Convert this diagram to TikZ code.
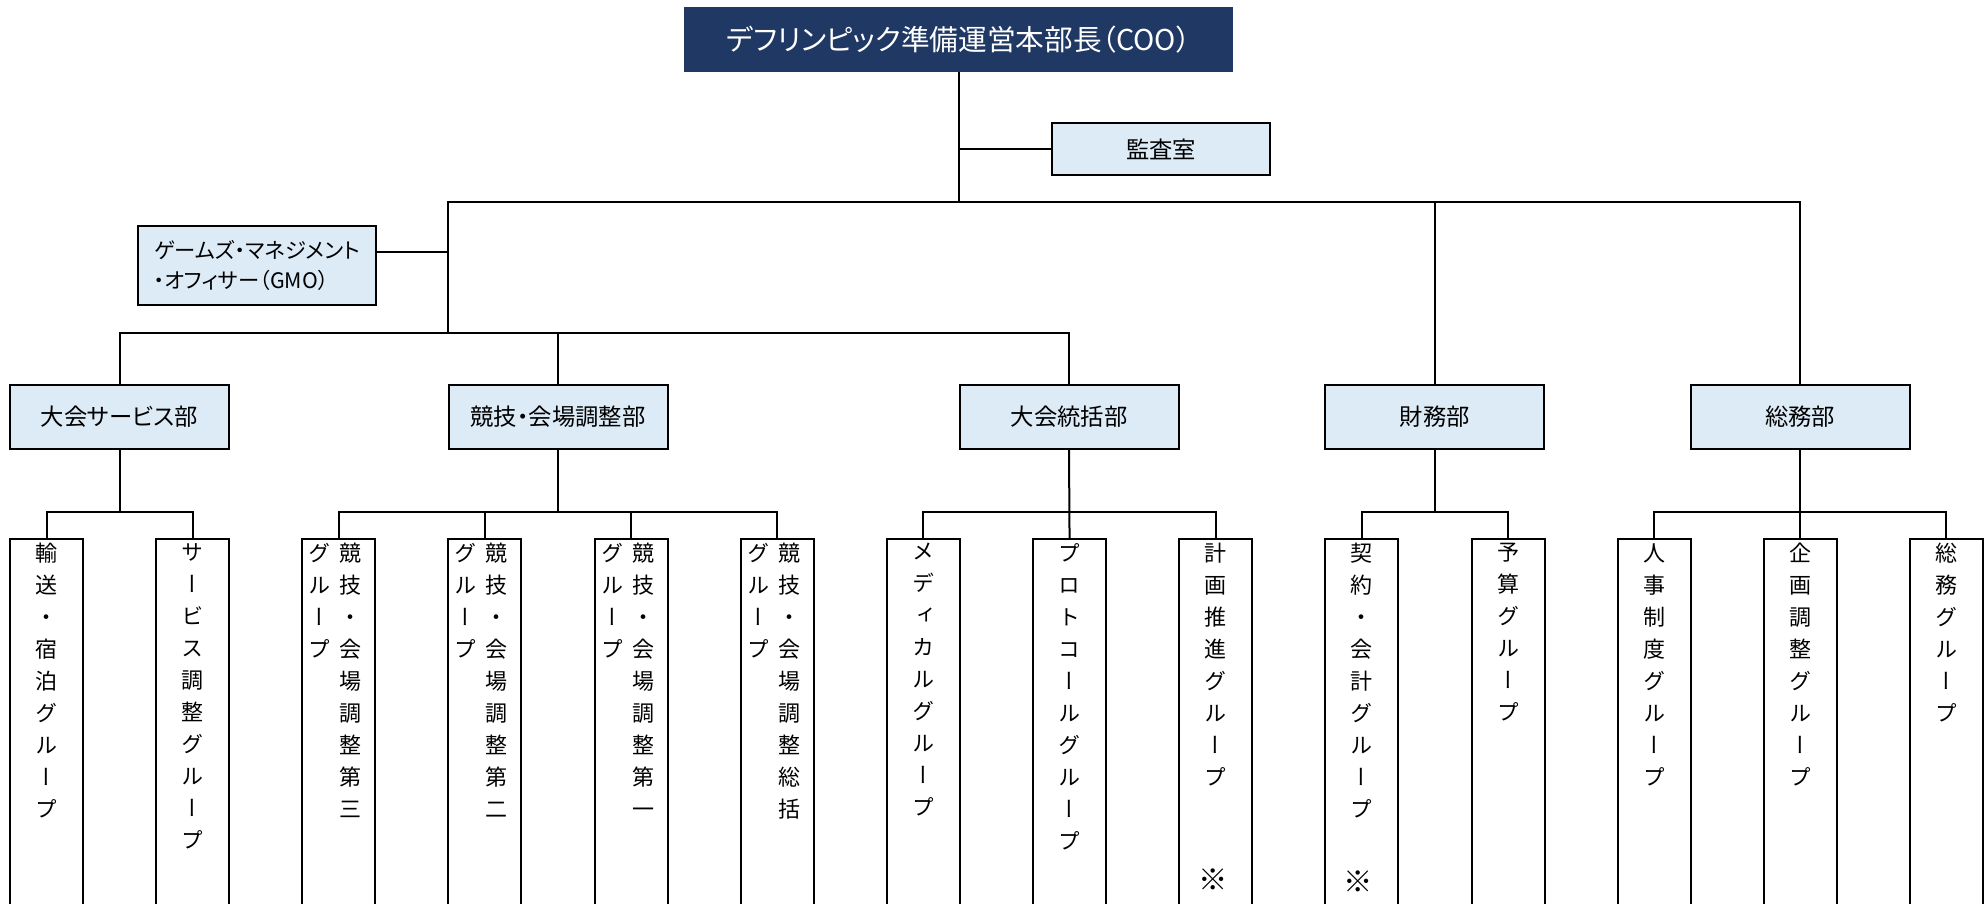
\documentclass[tikz,border=0pt]{standalone}
\usepackage{fontspec}
\setmainfont[RawFeature=+palt]{Noto Sans CJK JP}
\newfontfamily\tatefont[RawFeature=+vert]{Noto Sans CJK JP}
\definecolor{navy}{HTML}{203864}
\definecolor{paleblue}{HTML}{DDEBF7}

\begin{document}
\begin{tikzpicture}[
			x = 0.75pt, y = -0.75pt,
			link/.style = {line width = 1.5pt},
			headbox/.style = {draw = navy, fill = navy, text = white, line width = 1.5pt, inner sep = 0pt,
				minimum width = 410.25pt, minimum height = 47.25pt, font = \fontsize{21.5pt}{25pt}\selectfont},
			deptbox/.style = {draw, fill = paleblue, line width = 1.5pt, inner sep = 0pt,
				minimum width = 164.25pt, minimum height = 48pt, font = \fontsize{17.5pt}{21pt}\selectfont},
			groupbox/.style = {draw, fill = white, line width = 1.5pt, inner sep = 0pt,
				minimum width = 54.75pt, minimum height = 300pt, anchor = north},
			tate/.style = {inner sep = 0pt, align = center, anchor = north,
				font = \tatefont\fontsize{16.5pt}{24pt}\selectfont},
			note/.style = {inner sep = 0pt, font = \fontsize{22pt}{24pt}\selectfont}
			]

			\useasboundingbox (0,0) rectangle (1988,903);

			\node[headbox] (coo) at (958.5,39.5) {デフリンピック準備運営本部長（COO）};
			\node[deptbox, minimum width = 163.5pt, minimum height = 39pt] (kansa) at (1161,149) {監査室};
			\node[deptbox, minimum width = 178.5pt, minimum height = 59.25pt, align = left,
				font = \fontsize{16pt}{22.5pt}\selectfont] (gmo) at (257,265.5) {ゲームズ・マネジメント\\・オフィサー（GMO）};

			\node[deptbox] (service) at (119.5,417) {大会サービス部};
			\node[deptbox] (kyogi) at (558,417) {競技・会場調整部};
			\node[deptbox] (toukatsu) at (1069,417) {大会統括部};
			\node[deptbox] (zaimu) at (1434.9,417) {財務部};
			\node[deptbox] (soumu) at (1800.3,417) {総務部};

			\node[groupbox] (g0) at (46.5,538) {};
			\node[groupbox] (g1) at (192.65,538) {};
			\node[groupbox] (g2) at (338.8,538) {};
			\node[groupbox] (g3) at (484.95,538) {};
			\node[groupbox] (g4) at (631.1,538) {};
			\node[groupbox] (g5) at (777.25,538) {};
			\node[groupbox] (g6) at (923.4,538) {};
			\node[groupbox] (g7) at (1069.55,538) {};
			\node[groupbox] (g8) at (1215.7,538) {};
			\node[groupbox] (g9) at (1361.85,538) {};
			\node[groupbox] (g10) at (1508,538) {};
			\node[groupbox] (g11) at (1654.15,538) {};
			\node[groupbox] (g12) at (1800.3,538) {};
			\node[groupbox] (g13) at (1946.45,538) {};

			\node[tate] (yuso) at (46.5,543) {輸\\送\\・\\宿\\泊\\グ\\ル\\ー\\プ};
			\node[tate] (sabisu) at (192.65,543) {サ\\ー\\ビ\\ス\\調\\整\\グ\\ル\\ー\\プ};
			\node[tate] (dai3r) at (350.8,543) {競\\技\\・\\会\\場\\調\\整\\第\\三};
			\node[tate] (dai3l) at (319.8,543) {グ\\ル\\ー\\プ};
			\node[tate] (dai2r) at (496.95,543) {競\\技\\・\\会\\場\\調\\整\\第\\二};
			\node[tate] (dai2l) at (465.95,543) {グ\\ル\\ー\\プ};
			\node[tate] (dai1r) at (643.1,543) {競\\技\\・\\会\\場\\調\\整\\第\\一};
			\node[tate] (dai1l) at (612.1,543) {グ\\ル\\ー\\プ};
			\node[tate] (sokatsur) at (789.25,543) {競\\技\\・\\会\\場\\調\\整\\総\\括};
			\node[tate] (sokatsul) at (758.25,543) {グ\\ル\\ー\\プ};
			\node[tate] (medical) at (923.4,543) {メ\\デ\\ィ\\カ\\ル\\グ\\ル\\ー\\プ};
			\node[tate] (protocol) at (1069.55,543) {プ\\ロ\\ト\\コ\\ー\\ル\\グ\\ル\\ー\\プ};
			\node[tate] (keikaku) at (1215.7,543) {計\\画\\推\\進\\グ\\ル\\ー\\プ};
			\node[tate] (keiyaku) at (1361.85,543) {契\\約\\・\\会\\計\\グ\\ル\\ー\\プ};
			\node[tate] (yosan) at (1508,543) {予\\算\\グ\\ル\\ー\\プ};
			\node[tate] (jinji) at (1654.15,543) {人\\事\\制\\度\\グ\\ル\\ー\\プ};
			\node[tate] (kikaku) at (1800.3,543) {企\\画\\調\\整\\グ\\ル\\ー\\プ};
			\node[tate] (somug) at (1946.45,543) {総\\務\\グ\\ル\\ー\\プ};
			\node[note] (keikakunote) at (1213,880) {※};
			\node[note] (keiyakunote) at (1358,882) {※};

			\coordinate (hub) at (958.5,202);
			\coordinate (gmojoin) at (448,202);
			\coordinate (opsjoin) at (448,333);
			\coordinate (sbus) at (0,512);

			\draw[link] (coo.south) -- (hub);
			\draw[link] (kansa.west) -- (kansa.west -| hub);
			\draw[link] (soumu.north) |- (gmojoin) -- (opsjoin);
			\draw[link] (zaimu.north) -- (zaimu.north |- hub);
			\draw[link] ([yshift = 10pt]gmo.east) -- ([yshift = 10pt]gmo.east -| gmojoin);
			\draw[link] (service.north) |- (opsjoin) -| (toukatsu.north);
			\draw[link] (kyogi.north) -- (kyogi.north |- opsjoin);

			\draw[link] (service.south) -- (service.south |- sbus);
			\draw[link] (g0.north) |- (g1.north |- sbus) -- (g1.north);
			\draw[link] (kyogi.south) -- (kyogi.south |- sbus);
			\draw[link] (g2.north) |- (g5.north |- sbus) -- (g5.north);
			\draw[link] (g3.north) -- (g3.north |- sbus);
			\draw[link] (g4.north) -- (g4.north |- sbus);
			\draw[link] (toukatsu.south) -- (g7.north);
			\draw[link] (g6.north) |- (g8.north |- sbus) -- (g8.north);
			\draw[link] (zaimu.south) -- (zaimu.south |- sbus);
			\draw[link] (g9.north) |- (g10.north |- sbus) -- (g10.north);
			\draw[link] (soumu.south) -- (g12.north);
			\draw[link] (g11.north) |- (g13.north |- sbus) -- (g13.north);

		\end{tikzpicture}
\end{document}
